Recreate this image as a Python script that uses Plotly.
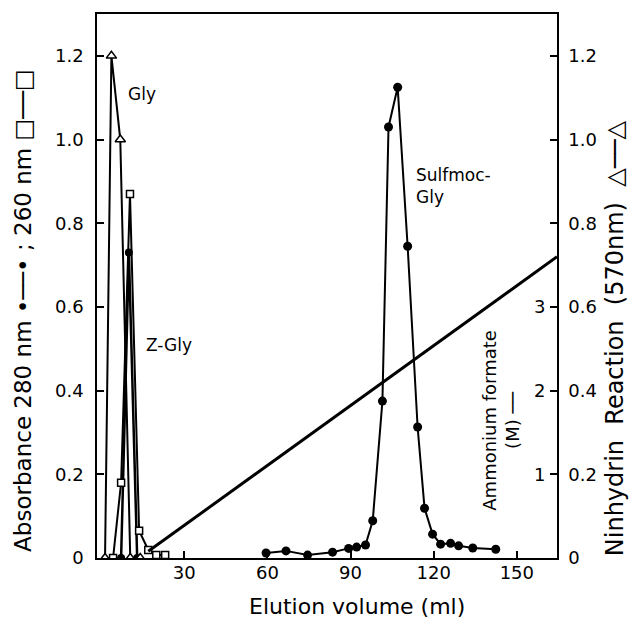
import plotly.graph_objects as go

# Ninhydrin reaction (570 nm), open triangles
tri_x = [1.4, 3.7, 6.9, 10.5, 14.1]
tri_y = [0.0, 1.20, 1.00, 0.0, 0.0]

# Absorbance 260 nm, open squares
sq_x = [4.3, 7.2, 10.4, 13.7, 17.0, 19.9, 23.1]
sq_y = [0.0, 0.18, 0.87, 0.065, 0.019, 0.007, 0.007]

# Absorbance 280 nm, filled circles (Z-Gly region)
zc_x = [7.2, 10.0, 13.0]
zc_y = [0.0, 0.73, 0.0]

# Absorbance 280 nm, filled circles (Sulfmoc-Gly peak)
sc_x = [59.5, 66.7, 74.5, 83.5, 89.3, 92.2, 95.4, 98.0, 101.5, 103.7, 107.0,
        110.6, 114.2, 116.7, 119.6, 122.5, 126.1, 129.0, 134.1, 142.4]
sc_y = [0.012, 0.017, 0.007, 0.014, 0.023, 0.026, 0.031, 0.089, 0.375, 1.03, 1.125,
        0.745, 0.313, 0.119, 0.057, 0.033, 0.035, 0.029, 0.024, 0.021]

# Ammonium formate gradient (M)
grad_x = [17.0, 164.5]
grad_m = [0.08, 3.6]

abs_ticks = [0, 0.2, 0.4, 0.6, 0.8, 1.0, 1.2]
abs_labels = ["0", "0.2", "0.4", "0.6", "0.8", "1.0", "1.2"]
m_ticks = [1, 2, 3]
x_ticks = [30, 60, 90, 120, 150]

FONT = "DejaVu Sans"
fig = go.Figure()

fig.add_trace(go.Scatter(x=grad_x, y=grad_m, mode="lines", yaxis="y3",
                         line=dict(color="black", width=3), cliponaxis=True))
fig.add_trace(go.Scatter(x=zc_x, y=zc_y, mode="lines+markers",
                         line=dict(color="black", width=2.5),
                         marker=dict(symbol="circle", size=8, color="black")))
fig.add_trace(go.Scatter(x=sc_x, y=sc_y, mode="lines+markers",
                         line=dict(color="black", width=2),
                         marker=dict(symbol="circle", size=9, color="black")))
fig.add_trace(go.Scatter(x=sq_x, y=sq_y, mode="lines+markers",
                         line=dict(color="black", width=2),
                         marker=dict(symbol="square", size=7, color="white",
                                     line=dict(color="black", width=1.5))))
fig.add_trace(go.Scatter(x=tri_x, y=tri_y, mode="lines+markers", yaxis="y2",
                         line=dict(color="black", width=2),
                         marker=dict(symbol="triangle-up", size=9, color="white",
                                     line=dict(color="black", width=1.5))))

axis_common = dict(showgrid=False, zeroline=False, linecolor="black", linewidth=1.5,
                   ticks="inside", ticklen=7, tickwidth=1.5, tickcolor="black",
                   automargin=False,
                   tickfont=dict(family=FONT, size=18, color="black"))

fig.update_layout(
    width=639, height=625,
    margin=dict(l=97, r=82, t=14, b=67),
    plot_bgcolor="white", paper_bgcolor="white",
    showlegend=False,
    xaxis=dict(range=[-1.5, 164.5], tickvals=x_ticks, mirror=True, showline=True,
               ticklabelstandoff=-2, **axis_common),
    yaxis=dict(range=[0, 1.3], tickvals=abs_ticks, ticktext=abs_labels, showline=True,
               ticklabelstandoff=8, **axis_common),
    yaxis2=dict(range=[0, 1.3], tickvals=abs_ticks, ticktext=abs_labels, overlaying="y",
                side="right", showline=True, ticklabelstandoff=6, **axis_common),
    yaxis3=dict(range=[0, 6.5], tickvals=m_ticks, overlaying="y", anchor="free",
                position=0.975, side="left", showline=False, showgrid=False,
                zeroline=False, ticks="", automargin=False,
                tickfont=dict(family=FONT, size=18, color="black")),
)

ann_font = dict(family=FONT, size=17, color="black")
fig.add_annotation(x=9, y=1.11, text="Gly", showarrow=False, xanchor="left", font=ann_font)
fig.add_annotation(x=15.5, y=0.51, text="Z-Gly", showarrow=False, xanchor="left", font=ann_font)
fig.add_annotation(x=113, y=0.89, text="Sulfmoc-<br>Gly", showarrow=False, xanchor="left",
                   align="left", font=ann_font)
fig.add_annotation(xref="paper", yref="paper", x=0.565, y=-0.09,
                   text="Elution volume (ml)", showarrow=False,
                   xanchor="center", yanchor="middle",
                   font=dict(family=FONT, size=22, color="black"))
fig.add_annotation(xref="paper", yref="paper", x=-0.161, y=0.456,
                   text="Absorbance 280 nm •──• ; 260 nm □──□", textangle=-90,
                   xanchor="center", yanchor="middle",
                   showarrow=False, font=dict(family=FONT, size=23, color="black"))
fig.add_annotation(xref="paper", yref="paper", x=1.126, y=0.404,
                   text="Ninhydrin  Reaction  (570nm)  △──△", textangle=-90,
                   xanchor="center", yanchor="middle",
                   showarrow=False, font=dict(family=FONT, size=24, color="black"))
fig.add_annotation(xref="paper", yref="paper", x=0.878, y=0.254,
                   text="Ammonium formate<br>(M) ──", textangle=-90,
                   xanchor="center", yanchor="middle",
                   showarrow=False, font=dict(family=FONT, size=18, color="black"),
                   align="center")

fig.write_html("out.html", post_script="document.body.style.margin='0';",
               config={"displayModeBar": False})
